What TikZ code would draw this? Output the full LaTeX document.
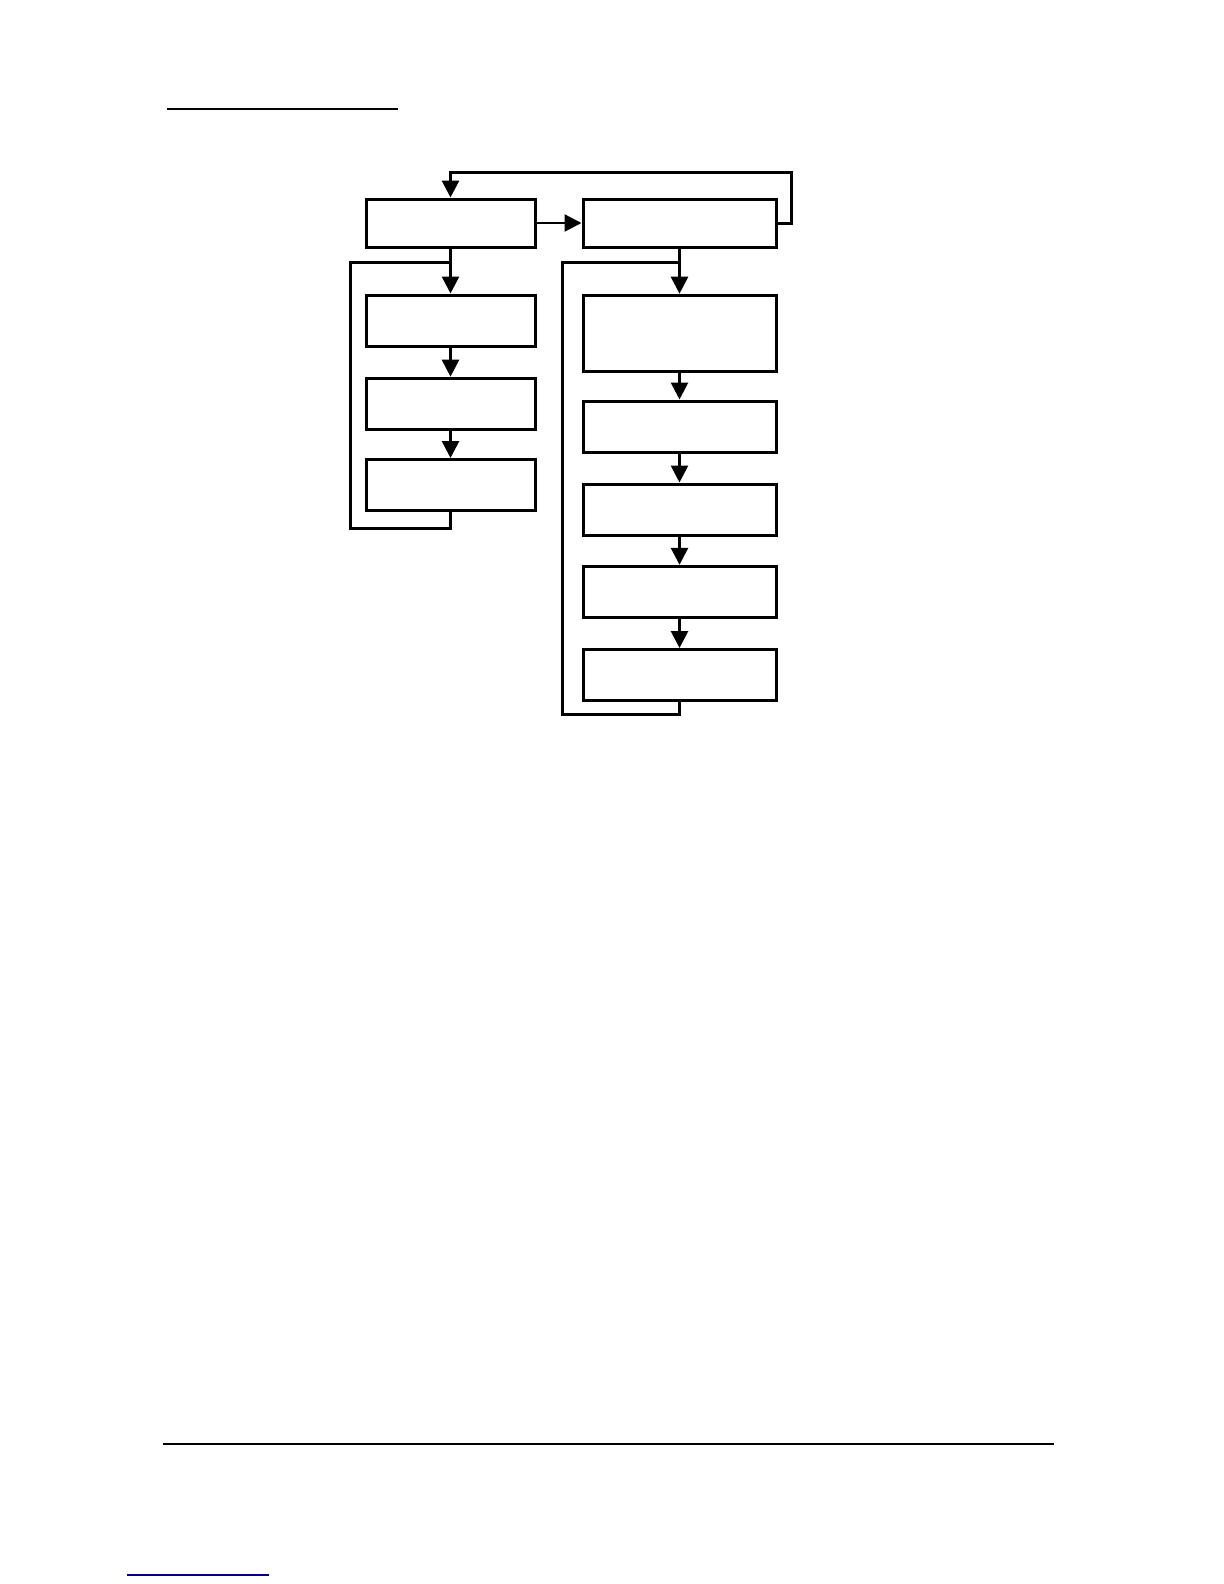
\documentclass[tikz,border=0pt]{standalone}
\usetikzlibrary{arrows.meta}
\tikzset{box/.style={draw,line width=1.5pt,inner sep=0pt,minimum width=84.5pt,minimum height=25.5pt},
wide/.style={box,minimum width=96.5pt},
arr/.style={-{Triangle[length=8.5pt,width=8.5pt]},line width=1.4pt},
loop/.style={line width=1.5pt}}
\begin{document}
\begin{tikzpicture}[x=0.5pt,y=-0.5pt]
\useasboundingbox (0,0) rectangle (1224,1584);
% page rules
\draw[line width=1.2pt] (167,109) -- (398,109);
\draw[line width=0.8pt] (163,1444) -- (1054,1444);
\draw[line width=0.8pt,blue!50!black] (127,1575) -- (269,1575);
% left column
\node[box,minimum height=24pt] (A) at (450.5,223) {};
\node[box] (A1) at (450.5,320.5) {};
\node[box] (A2) at (450.5,403.7) {};
\node[box] (A3) at (450.5,485) {};
% right column
\node[wide,minimum height=24pt] (B) at (679.5,223) {};
\node[wide,minimum height=38pt] (B1) at (679.5,333.2) {};
\node[wide] (B2) at (679.5,426.5) {};
\node[wide] (B3) at (679.5,509.5) {};
\node[wide] (B4) at (679.5,591.8) {};
\node[wide] (B5) at (679.5,675) {};
% turning points
\coordinate (tr) at (791,172);
\coordinate (al) at (350.7,262.3);
\coordinate (ab) at (350.7,528);
\coordinate (bl) at (562,262.3);
\coordinate (bb) at (562,714.7);
\draw[arr,line width=1.1pt] (A) -- (B);
\draw[arr,loop] (B.east) -| (tr) -| (A.north);
\draw[arr] (A) -- (A1);
\draw[arr] (A1) -- (A2);
\draw[arr] (A2) -- (A3);
\draw[loop] (A3.south) |- (ab) -- (al) -| (A.south);
\draw[arr] (B) -- (B1);
\draw[arr] (B1) -- (B2);
\draw[arr] (B2) -- (B3);
\draw[arr] (B3) -- (B4);
\draw[arr] (B4) -- (B5);
\draw[loop] (B5.south) |- (bb) -- (bl) -| (B.south);
\end{tikzpicture}
\end{document}
